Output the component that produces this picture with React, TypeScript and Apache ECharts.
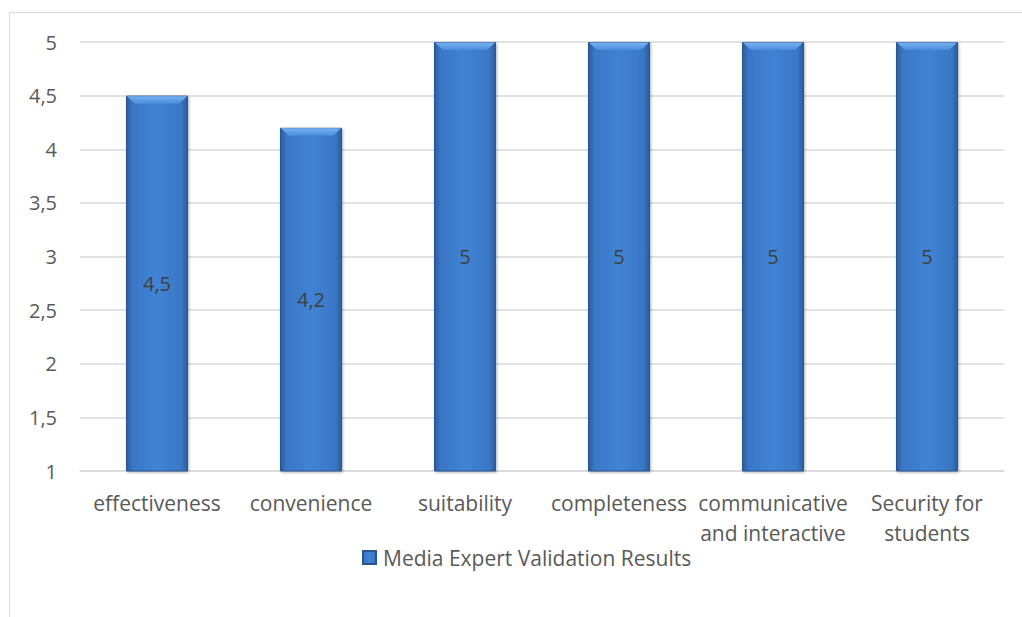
import React, { useEffect, useRef } from "react";
import * as echarts from "echarts";

const categories = [
  "effectiveness",
  "convenience",
  "suitability",
  "completeness",
  "communicative\nand interactive",
  "Security for\nstudents",
];
const values = [4.5, 4.2, 5, 5, 5, 5];
const seriesName = "Media Expert Validation Results";
const yMin = 1;
const yMax = 5;
const yStep = 0.5;

const fmt = (v: number) => String(v).replace(".", ",");

export default function App() {
  const ref = useRef<HTMLDivElement>(null);
  useEffect(() => {
    document.body.style.margin = "0";
    const chart = echarts.init(ref.current!, null, { renderer: "svg" });
    const font = "'Open Sans', 'Noto Sans', sans-serif";
    const BAR_W = 62;
    chart.setOption({
      animation: false,
      backgroundColor: "#ffffff",
      textStyle: { fontFamily: font },
      graphic: [
        {
          type: "rect",
          shape: { x: 9.5, y: 12.5, width: 1100, height: 700 },
          style: { fill: "none", stroke: "#d9d9d9", lineWidth: 1 },
          silent: true,
          z: -10,
        },
      ],
      grid: { left: 80, right: 18, top: 42, bottom: 146 },
      legend: {
        data: [seriesName],
        top: 547,
        left: 362,
        padding: 0,
        icon: "rect",
        itemWidth: 13,
        itemHeight: 13,
        itemGap: 10,
        textStyle: { fontSize: 21, color: "#595959", fontFamily: font, padding: [0, 0, 0, 2] },
      },
      xAxis: {
        type: "category",
        data: categories,
        axisLine: { lineStyle: { color: "#d9d9d9", width: 1.5 } },
        axisTick: { show: false },
        axisLabel: {
          color: "#595959",
          fontSize: 21,
          lineHeight: 30,
          margin: 17,
          interval: 0,
          fontFamily: font,
        },
      },
      yAxis: {
        type: "value",
        min: yMin,
        max: yMax,
        interval: yStep,
        axisLine: { show: false },
        axisTick: { show: false },
        splitLine: { lineStyle: { color: "#d9d9d9", width: 1.5 } },
        axisLabel: {
          color: "#595959",
          fontSize: 20,
          margin: 23,
          formatter: (v: number) => fmt(v),
          fontFamily: font,
        },
      },
      series: [
        {
          name: seriesName,
          type: "bar",
          data: values,
          barWidth: BAR_W,
          itemStyle: {
            color: {
              type: "linear",
              x: 0,
              y: 0,
              x2: 1,
              y2: 0,
              colorStops: [
                { offset: 0, color: "#2b5d9e" },
                { offset: 0.1, color: "#3a77c5" },
                { offset: 0.5, color: "#4183d5" },
                { offset: 0.9, color: "#3a77c5" },
                { offset: 1, color: "#2b5d9e" },
              ],
            },
            borderColor: "#2a5690",
            borderWidth: 1,
            shadowBlur: 3,
            shadowColor: "rgba(0,0,0,0.3)",
            shadowOffsetX: 1,
            shadowOffsetY: 1,
          },
          label: {
            show: true,
            position: "inside",
            color: "#404040",
            fontSize: 20,
            fontFamily: font,
            formatter: (p: any) => fmt(p.value),
          },
        },
        {
          type: "custom",
          silent: true,
          z: 3,
          data: values.map((v, i) => [i, v]),
          renderItem: (params: any, api: any) => {
            const top = api.coord([api.value(0), api.value(1)]);
            const x0 = top[0] - BAR_W / 2;
            const x1 = top[0] + BAR_W / 2;
            const y0 = top[1];
            const h = 8;
            const inset = 9;
            return {
              type: "polygon",
              shape: {
                points: [
                  [x0 + 1, y0 + 0.5],
                  [x1 - 1, y0 + 0.5],
                  [x1 - inset, y0 + h],
                  [x0 + inset, y0 + h],
                ],
              },
              style: {
                fill: {
                  type: "linear",
                  x: 0,
                  y: 0,
                  x2: 0,
                  y2: 1,
                  colorStops: [
                    { offset: 0, color: "#78b2f0" },
                    { offset: 1, color: "#4a8ddc" },
                  ],
                },
              },
            };
          },
        },
      ],
    });
    return () => chart.dispose();
  }, []);
  return <div ref={ref} style={{ width: 1022, height: 617 }} />;
}
